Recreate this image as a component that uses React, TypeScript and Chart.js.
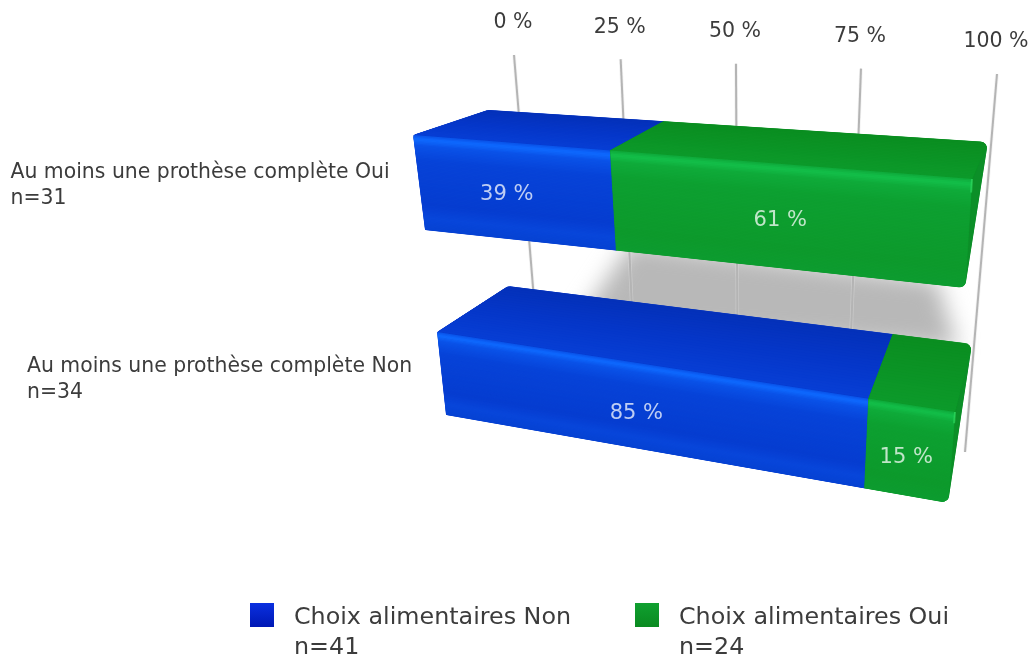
import React, { useEffect, useRef } from "react";
import { Chart, registerables } from "chart.js";

Chart.register(...registerables);

const categories = [
  ["Au moins une prothèse complète Oui", "n=31"],
  ["Au moins une prothèse complète Non", "n=34"],
];
const choixNon = [39, 85];
const choixOui = [61, 15];
const legendNon = ["Choix alimentaires Non", "n=41"];
const legendOui = ["Choix alimentaires Oui", "n=24"];

type P = [number, number];
type Stop = [number, string];

function squareToQuad(q: P[]) {
  const [[x0, y0], [x1, y1], [x2, y2], [x3, y3]] = q;
  const dx1 = x1 - x2, dx2 = x3 - x2, sx = x0 - x1 + x2 - x3;
  const dy1 = y1 - y2, dy2 = y3 - y2, sy = y0 - y1 + y2 - y3;
  const den = dx1 * dy2 - dx2 * dy1;
  const g = (sx * dy2 - dx2 * sy) / den;
  const h = (dx1 * sy - sx * dy1) / den;
  const a = x1 - x0 + g * x1, b = x3 - x0 + h * x3;
  const d = y1 - y0 + g * y1, e = y3 - y0 + h * y3;
  return (u: number, v: number): P => {
    const w = g * u + h * v + 1;
    return [(a * u + b * v + x0) / w, (d * u + e * v + y0) / w];
  };
}

const FRONTS = [
  squareToQuad([[413, 135], [972, 179], [965, 288], [425, 230]]),
  squareToQuad([[437, 332], [955, 412], [948, 503], [446, 415]]),
];
const BACK = squareToQuad([[488, 110], [988, 142], [972, 344], [508, 286]]);
const WALL = squareToQuad([[514, 55], [997, 74], [965, 452], [541, 385]]);

function hex(c: string) {
  return [1, 3, 5].map((i) => parseInt(c.slice(i, i + 2), 16));
}
function ramp(stops: Stop[], t: number) {
  for (let i = 1; i < stops.length; i++) {
    if (t <= stops[i][0]) {
      const [t0, c0] = stops[i - 1];
      const [t1, c1] = stops[i];
      const k = (t - t0) / (t1 - t0 || 1);
      const a = hex(c0), b = hex(c1);
      return `rgb(${a.map((v, j) => Math.round(v + (b[j] - v) * k)).join(",")})`;
    }
  }
  return stops[stops.length - 1][1];
}

const SKINS = [
  {
    front: [[0, "#0a56ec"], [0.035, "#0e6aff"], [0.1, "#0a52e8"], [0.25, "#0743d8"], [0.72, "#063dd0"], [0.86, "#0846da"], [1, "#0642d2"]] as Stop[],
    top: [[0, "#073ed4"], [0.5, "#0536c8"], [1, "#0430b8"]] as Stop[],
    side: "#0532c0",
  },
  {
    front: [[0, "#0fac3c"], [0.035, "#13c04a"], [0.1, "#0fab3a"], [0.25, "#0da031"], [0.8, "#0d9a2c"], [1, "#0d9c30"]] as Stop[],
    top: [[0, "#0c9a2a"], [0.5, "#0b9325"], [1, "#0a8d20"]] as Stop[],
    side: "#0c8f28",
  },
];

function poly(ctx: CanvasRenderingContext2D, pts: P[]) {
  ctx.beginPath();
  pts.forEach((p, i) => (i ? ctx.lineTo(p[0], p[1]) : ctx.moveTo(p[0], p[1])));
  ctx.closePath();
}
function roundedPoly(ctx: CanvasRenderingContext2D, pts: P[], radii: number[]) {
  const n = pts.length;
  const last = pts[n - 1], first = pts[0];
  ctx.beginPath();
  ctx.moveTo((last[0] + first[0]) / 2, (last[1] + first[1]) / 2);
  pts.forEach((p, i) => {
    const q = pts[(i + 1) % n];
    ctx.arcTo(p[0], p[1], (p[0] + q[0]) / 2, (p[1] + q[1]) / 2, radii[i]);
  });
  ctx.closePath();
}
function fillPoly(ctx: CanvasRenderingContext2D, pts: P[], color: string, sw = 0) {
  poly(ctx, pts);
  ctx.fillStyle = color;
  ctx.fill();
  if (sw > 0) {
    ctx.strokeStyle = color;
    ctx.lineWidth = sw;
    ctx.lineJoin = "round";
    ctx.stroke();
  }
}

const labelDepth = [0.53, 0.575];
const labelNudge = [2.5, 5.5];
const valueShift = [-7, -2];

const scene3d = {
  id: "scene3d",
  beforeDatasetsDraw(chart: any) {
    const ctx: CanvasRenderingContext2D = chart.ctx;
    const xs = chart.scales.x;
    const x0 = xs.getPixelForValue(0);
    const x1 = xs.getPixelForValue(100);
    const U = (px: number) => (px - x0) / (x1 - x0);

    const metas = [chart.getDatasetMeta(0), chart.getDatasetMeta(1)];
    const rows = metas[0].data.map((_: any, i: number) => {
      const b = metas[0].data[i].getProps(["y", "height"], true);
      return { top: b.y - b.height / 2, bottom: b.y + b.height / 2 };
    });

    ctx.save();

    // floor shadow cast by the first bar
    ctx.save();
    ctx.filter = "blur(11px)";
    poly(ctx, [
      FRONTS[0](0.42, 0.9),
      FRONTS[0](0.955, 0.95),
      FRONTS[0](0.995, 1.6),
      FRONTS[0](0.3, 1.85),
    ]);
    ctx.fillStyle = "#b8b8b8";
    ctx.fill();
    ctx.restore();

    // grid wall
    xs.ticks.forEach((t: any) => {
      const u = U(xs.getPixelForValue(t.value));
      const a = WALL(u, 0), b = WALL(u, 1);
      ctx.beginPath();
      ctx.moveTo(a[0], a[1]);
      ctx.lineTo(b[0], b[1]);
      ctx.strokeStyle = "rgba(225,225,225,0.4)";
      ctx.lineWidth = 3.6;
      ctx.stroke();
      ctx.strokeStyle = "#b4b4b4";
      ctx.lineWidth = 2;
      ctx.stroke();
    });

    // tick labels follow the top of the wall
    ctx.font = '20.5px "DejaVu Sans"';
    ctx.fillStyle = "#3c3c3c";
    ctx.textAlign = "center";
    ctx.textBaseline = "middle";
    xs.ticks.forEach((t: any) => {
      const u = U(xs.getPixelForValue(t.value));
      const a = WALL(u, 0);
      ctx.fillText(t.label, a[0] - 1, a[1] - 32);
    });

    // bars
    const STRIPS = 70;
    rows.forEach((row: any, i: number) => {
      const F = FRONTS[i];
      const B = (u: number) => BACK(u, i);
      ctx.save();
      roundedPoly(ctx, [F(0, 0), B(0), B(1), F(1, 1), F(0, 1)], [3, 10, 7, 7, 2]);
      ctx.clip();
      metas.forEach((m, k) => {
        const el = m.data[i].getProps(["x", "base"], true);
        const ua = U(el.base), ub = U(el.x);
        const skin = SKINS[k];
        if (ub > 0.999) {
          fillPoly(ctx, [F(ub, 0), B(ub), F(ub, 1)], skin.side, 2.5);
        }
        const lerp = (p: P, q: P, d: number): P => [p[0] + (q[0] - p[0]) * d, p[1] + (q[1] - p[1]) * d];
        const depth = (u: number, d: number) => lerp(F(u, 0), B(u), d);
        fillPoly(ctx, [F(ua, 0), F(ub, 0), B(ub), B(ua)], skin.top[1][1], 1);
        for (let s = 0; s < 24; s++) {
          const d0 = s / 24, d1 = Math.min(1, (s + 1.6) / 24);
          fillPoly(ctx, [depth(ua, d0), depth(ub, d0), depth(ub, d1), depth(ua, d1)], ramp(skin.top, d0));
        }
        fillPoly(ctx, [F(ua, 0), F(ub, 0), F(ub, 1), F(ua, 1)], skin.front[4][1], 0.8);
        for (let s = 0; s < STRIPS; s++) {
          const s0 = s / STRIPS, s1 = Math.min(1, (s + 1.6) / STRIPS);
          fillPoly(ctx, [F(ua, s0), F(ub, s0), F(ub, s1), F(ua, s1)], ramp(skin.front, s0));
        }
        if (ub > 0.999) {
          const hi0 = F(ub, 0), hi1 = F(ub, 0.12);
          ctx.beginPath();
          ctx.moveTo(hi0[0], hi0[1]);
          ctx.lineTo(hi1[0], hi1[1]);
          ctx.strokeStyle = "rgba(60,235,110,0.5)";
          ctx.lineWidth = 2;
          ctx.stroke();
        }
      });
      ctx.restore();
    });

    // value labels on the front faces
    ctx.font = '21px "DejaVu Sans"';
    ctx.fillStyle = "rgba(255,255,255,0.74)";
    rows.forEach((row: any, i: number) => {
      metas.forEach((m, k) => {
        const el = m.data[i].getProps(["x", "base"], true);
        const c = FRONTS[i](U((el.x + el.base) / 2), labelDepth[i]);
        const v = chart.data.datasets[k].data[i];
        ctx.fillText(`${v} %`, c[0] + valueShift[k], c[1]);
      });
    });

    // category labels, left-aligned in a block ending before each bar
    ctx.font = '20.4px "DejaVu Sans"';
    ctx.fillStyle = "#3c3c3c";
    ctx.textAlign = "left";
    rows.forEach((row: any, i: number) => {
      const lines: string[] = chart.data.labels[i];
      const c = FRONTS[i](0, 0.5);
      const w = Math.max(...lines.map((l) => ctx.measureText(l).width));
      const lh = 26;
      lines.forEach((l, j) => {
        ctx.fillText(l, c[0] - 29.5 - w, c[1] + labelNudge[i] + (j - (lines.length - 1) / 2) * lh);
      });
    });

    // legend
    const boxes = [250, 635];
    const swatches = [["#0a30e0", "#0018b4"], ["#10a030", "#0a8a20"]];
    [legendNon, legendOui].forEach((lines, k) => {
      const g = ctx.createLinearGradient(0, 603, 0, 627);
      g.addColorStop(0, swatches[k][0]);
      g.addColorStop(1, swatches[k][1]);
      ctx.fillStyle = g;
      ctx.fillRect(boxes[k], 603, 24, 24);
      ctx.font = '23.8px "DejaVu Sans"';
      ctx.fillStyle = "#3c3c3c";
      lines.forEach((l, j) => ctx.fillText(l, boxes[k] + 44, 618 + j * 30));
    });

    ctx.restore();
    return false;
  },
};

export default function App() {
  const ref = useRef<HTMLCanvasElement>(null);
  useEffect(() => {
    const chart = new Chart(ref.current!, {
      type: "bar",
      data: {
        labels: categories,
        datasets: [
          { label: legendNon.join(" "), data: choixNon, backgroundColor: "#0640d4", categoryPercentage: 0.626, barPercentage: 1 },
          { label: legendOui.join(" "), data: choixOui, backgroundColor: "#0e9e30", categoryPercentage: 0.626, barPercentage: 1 },
        ],
      } as any,
      options: {
        indexAxis: "y",
        responsive: false,
        animation: false,
        layout: { padding: { left: 420, right: 60, top: 110, bottom: 150 } },
        plugins: { legend: { display: false }, tooltip: { enabled: false }, title: { display: false } },
        scales: {
          x: {
            stacked: true,
            min: 0,
            max: 100,
            ticks: { display: false, stepSize: 25, callback: (v: any) => `${v} %` },
            grid: { display: false },
            border: { display: false },
          },
          y: {
            stacked: true,
            ticks: { display: false },
            grid: { display: false },
            border: { display: false },
          },
        },
      },
      plugins: [scene3d],
    } as any);
    return () => chart.destroy();
  }, []);
  return (
    <canvas
      ref={ref}
      width={1034}
      height={659}
      style={{ position: "fixed", left: 0, top: 0, width: 1034, height: 659, display: "block", background: "#fff", filter: "blur(0.5px)" }}
    />
  );
}
